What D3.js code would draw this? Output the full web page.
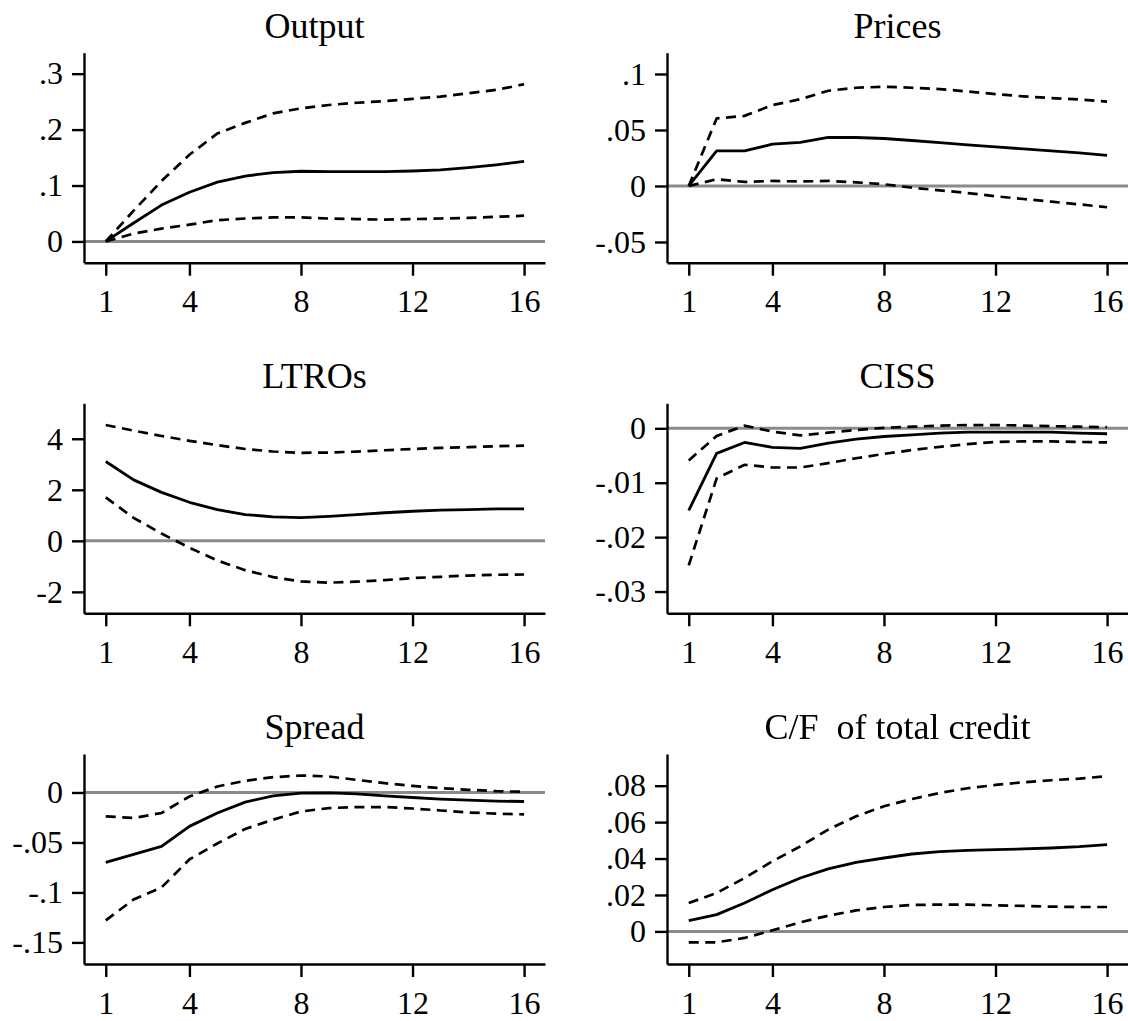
<!DOCTYPE html>
<html>
<head>
<meta charset="utf-8">
<script src="https://cdn.jsdelivr.net/npm/d3@7"></script>
<style>
  html, body { margin: 0; padding: 0; background: #fff; }
  svg { display: block; }
  .tick text { font-family: "Liberation Serif", "Times New Roman", serif; font-size: 32px; fill: #000; }
  .title { font-family: "Liberation Serif", "Times New Roman", serif; font-size: 36px; fill: #000; }
</style>
</head>
<body>
<svg id="chart" width="1128" height="1021"></svg>
<script>
// Impulse responses over 16 horizons: point estimate (irf) with lower/upper bands.
const horizons = [1, 2, 3, 4, 5, 6, 7, 8, 9, 10, 11, 12, 13, 14, 15, 16];
const xTicks = [1, 4, 8, 12, 16];

const outputIrf = [0, 0.033, 0.065, 0.088, 0.106, 0.117, 0.123, 0.1255, 0.125, 0.125, 0.125, 0.126, 0.128, 0.132, 0.137, 0.143];
const outputLo  = [0, 0.014, 0.023, 0.030, 0.038, 0.041, 0.043, 0.043, 0.041, 0.040, 0.039, 0.040, 0.041, 0.042, 0.044, 0.046];
const outputHi  = [0, 0.055, 0.108, 0.155, 0.193, 0.212, 0.229, 0.238, 0.244, 0.248, 0.251, 0.255, 0.259, 0.265, 0.271, 0.281];
const outputTicks = [0, 0.1, 0.2, 0.3];

const pricesIrf = [0, 0.0313, 0.0313, 0.0373, 0.039, 0.0433, 0.0433, 0.0424, 0.0406, 0.0388, 0.0367, 0.035, 0.0331, 0.0313, 0.0295, 0.0274];
const pricesLo  = [0, 0.006, 0.0036, 0.0045, 0.004, 0.0045, 0.0033, 0.0015, -0.0015, -0.0039, -0.0063, -0.0092, -0.0116, -0.014, -0.0164, -0.019];
const pricesHi  = [0, 0.0603, 0.0626, 0.0722, 0.0775, 0.085, 0.0877, 0.0886, 0.0877, 0.0865, 0.0844, 0.082, 0.080, 0.0785, 0.0773, 0.0753];
const pricesTicks = [-0.05, 0, 0.05, 0.1];

const ltroIrf = [3.11, 2.39, 1.90, 1.51, 1.22, 1.03, 0.94, 0.91, 0.96, 1.03, 1.10, 1.16, 1.20, 1.22, 1.25, 1.25];
const ltroLo  = [1.70, 0.90, 0.285, -0.27, -0.77, -1.15, -1.42, -1.59, -1.64, -1.60, -1.54, -1.46, -1.41, -1.36, -1.33, -1.32];
const ltroHi  = [4.54, 4.32, 4.11, 3.92, 3.75, 3.60, 3.50, 3.45, 3.46, 3.50, 3.55, 3.60, 3.64, 3.67, 3.71, 3.73];
const ltroTicks = [-2, 0, 2, 4];

const cissIrf = [-0.0151, -0.0046, -0.0026, -0.0035, -0.0037, -0.0027, -0.0020, -0.0015, -0.0012, -0.0009, -0.0007, -0.0007, -0.0007, -0.0007, -0.0009, -0.0010];
const cissLo  = [-0.0252, -0.0092, -0.0067, -0.0072, -0.0072, -0.0064, -0.0055, -0.0047, -0.0040, -0.0034, -0.0029, -0.0025, -0.0024, -0.0024, -0.0025, -0.0026];
const cissHi  = [-0.0059, -0.0014, 0.0005, -0.0006, -0.0013, -0.0008, -0.0003, 0.0001, 0.0003, 0.0005, 0.0006, 0.0006, 0.0005, 0.0004, 0.0003, 0.0002];
const cissTicks = [-0.03, -0.02, -0.01, 0];

const spreadIrf = [-0.070, -0.062, -0.054, -0.0339, -0.0205, -0.0096, -0.0033, -0.0007, -0.0003, -0.0013, -0.0033, -0.005, -0.0066, -0.0076, -0.0086, -0.009];
const spreadLo  = [-0.128, -0.107, -0.095, -0.067, -0.051, -0.0365, -0.0272, -0.019, -0.0156, -0.0146, -0.0146, -0.016, -0.018, -0.020, -0.0212, -0.0219];
const spreadHi  = [-0.0239, -0.0255, -0.0205, -0.004, 0.006, 0.0117, 0.0153, 0.017, 0.016, 0.0126, 0.0093, 0.0066, 0.0043, 0.0027, 0.0013, 0.0007];
const spreadTicks = [-0.15, -0.1, -0.05, 0];

const creditIrf = [0.0059, 0.0092, 0.0156, 0.0229, 0.0293, 0.0343, 0.0379, 0.0403, 0.0425, 0.0438, 0.0445, 0.0449, 0.0453, 0.0458, 0.0465, 0.0476];
const creditLo  = [-0.006, -0.006, -0.0036, 0.0006, 0.005, 0.0086, 0.0115, 0.0134, 0.0145, 0.0147, 0.0147, 0.0143, 0.014, 0.0136, 0.0134, 0.0134];
const creditHi  = [0.0156, 0.0211, 0.0293, 0.0385, 0.0467, 0.0559, 0.0632, 0.0687, 0.0727, 0.076, 0.0786, 0.0804, 0.0819, 0.083, 0.0839, 0.0852];
const creditTicks = [0, 0.02, 0.04, 0.06, 0.08];

const titles = ["Output", "Prices", "LTROs", "CISS", "Spread", "C/F  of total credit"];

const panels = [
  { title: titles[0], irf: outputIrf, lo: outputLo, hi: outputHi, ticks: outputTicks, yDomain: [-0.038, 0.3375] },
  { title: titles[1], irf: pricesIrf, lo: pricesLo, hi: pricesHi, ticks: pricesTicks, yDomain: [-0.0685, 0.119] },
  { title: titles[2], irf: ltroIrf,   lo: ltroLo,   hi: ltroHi,   ticks: ltroTicks,   yDomain: [-2.84, 5.39] },
  { title: titles[3], irf: cissIrf,   lo: cissLo,   hi: cissHi,   ticks: cissTicks,   yDomain: [-0.034, 0.0046] },
  { title: titles[4], irf: spreadIrf, lo: spreadLo, hi: spreadHi, ticks: spreadTicks, yDomain: [-0.1716, 0.0385] },
  { title: titles[5], irf: creditIrf, lo: creditLo, hi: creditHi, ticks: creditTicks, yDomain: [-0.0179, 0.0974] }
];

// Layout of the 3 x 2 grid
const colLeft = [84, 667];
const rowTop = [52.7, 403.3, 754];
const plotW = 461;
const plotH = 210;
const xDomain = [0.22, 16.75];

// Stata-style numbers: drop the leading zero (".05", "-.1")
const fmt = d => d === 0 ? "0" : String(+d.toFixed(4)).replace(/^(-?)0\./, "$1.");

const svg = d3.select("#chart");

const defs = svg.append("defs");
defs.append("filter").attr("id", "soft")
  .append("feGaussianBlur").attr("stdDeviation", 0.6);

panels.forEach((p, i) => {
  const col = i % 2, row = Math.floor(i / 2);
  const left = colLeft[col], top = rowTop[row];
  const g = svg.append("g").attr("transform", `translate(${left},${top})`);

  const x = d3.scaleLinear().domain(xDomain).range([0, plotW]);
  const y = d3.scaleLinear().domain(p.yDomain).range([plotH, 0]);

  // zero reference line
  g.append("line")
    .attr("x1", 0).attr("x2", plotW)
    .attr("y1", y(0)).attr("y2", y(0))
    .attr("stroke", "#8a8a8a").attr("stroke-width", 3);

  const line = d3.line().x((d, k) => x(horizons[k])).y(d => y(d));

  [p.lo, p.hi].forEach(band => {
    g.append("path").datum(band)
      .attr("d", line)
      .attr("fill", "none")
      .attr("stroke", "#000")
      .attr("stroke-width", 2.7)
      .attr("stroke-dasharray", "10,6.5");
  });

  g.append("path").datum(p.irf)
    .attr("d", line)
    .attr("fill", "none")
    .attr("stroke", "#000")
    .attr("stroke-width", 2.8)
    .attr("stroke-linejoin", "round");

  const yAxis = d3.axisLeft(y).tickValues(p.ticks).tickFormat(fmt)
    .tickSize(12).tickSizeOuter(0).tickPadding(9);
  const xAxis = d3.axisBottom(x).tickValues(xTicks).tickFormat(d3.format("d"))
    .tickSize(13).tickSizeOuter(0).tickPadding(14);

  const ya = g.append("g").call(yAxis);
  const xa = g.append("g").attr("transform", `translate(0,${plotH})`).call(xAxis);
  [ya, xa].forEach(a => {
    a.select(".domain").attr("stroke", "#000").attr("stroke-width", 2.4);
    a.selectAll(".tick line").attr("stroke", "#000").attr("stroke-width", 2.4);
    a.attr("font-family", null).attr("font-size", null);
  });

  const t = g.append("text").attr("class", "title")
    .attr("x", plotW / 2).attr("y", -15)
    .attr("text-anchor", "middle")
    .style("white-space", "pre")
    .text(p.title);
  if (i === 5) t.attr("filter", "url(#soft)");
});
</script>
</body>
</html>
